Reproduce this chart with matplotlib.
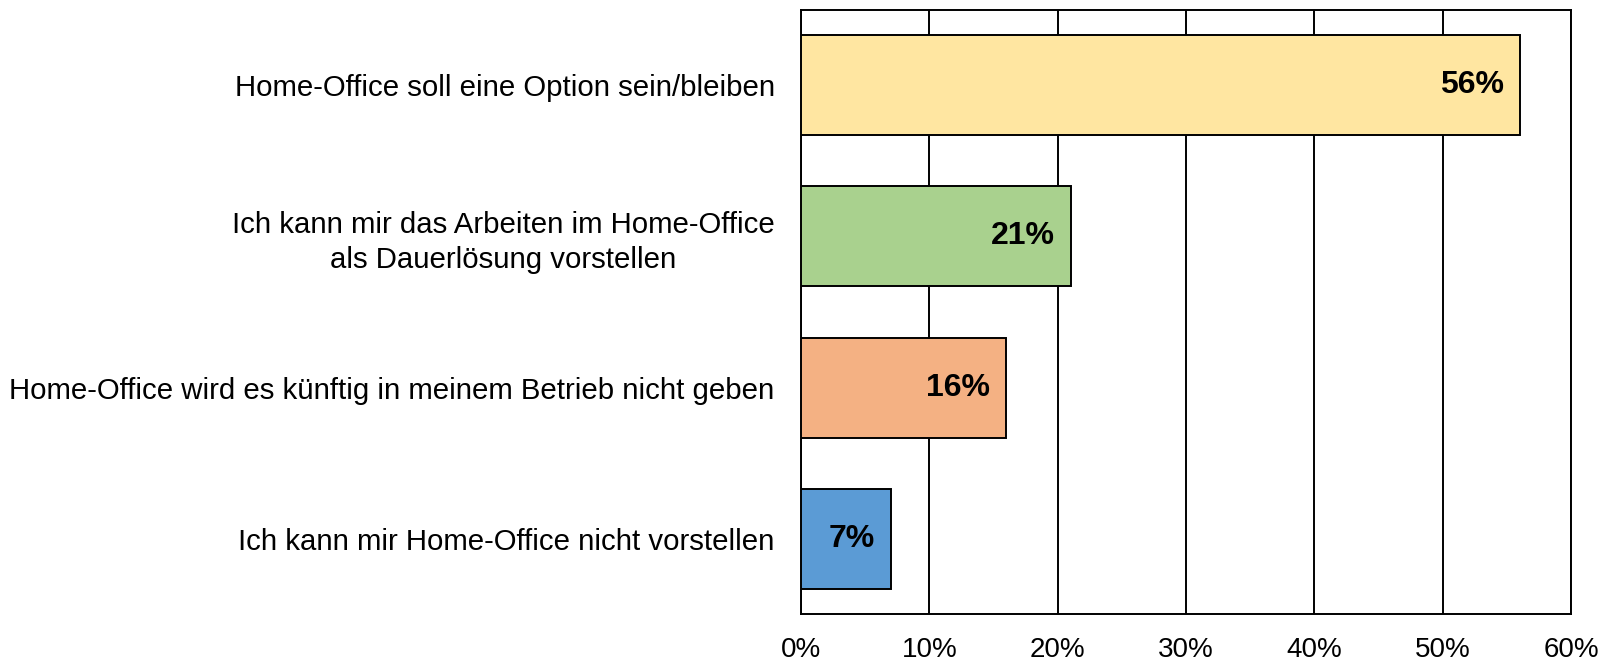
import matplotlib.pyplot as plt
from matplotlib.ticker import PercentFormatter

plt.rcParams['font.family'] = ['Liberation Sans', 'DejaVu Sans']

# Antworten zum Home-Office (von oben nach unten)
kategorien = [
    "Home-Office soll eine Option sein/bleiben",
    "Ich kann mir das Arbeiten im Home-Office\nals Dauerlösung vorstellen",
    "Home-Office wird es künftig in meinem Betrieb nicht geben",
    "Ich kann mir Home-Office nicht vorstellen",
]
anteile = [56, 21, 16, 7]
farben = ["#FFE6A1", "#A9D18E", "#F4B183", "#5B9BD5"]

fig = plt.figure(figsize=(16.04, 6.62), dpi=100)
ax = fig.add_axes([0.4994, 0.0718, 0.48, 0.9138])

y = range(len(kategorien))
balken = ax.barh(y, anteile, height=0.66, color=farben, edgecolor="black",
                 linewidth=1.4, zorder=3)
ax.set_ylim(3.5, -0.5)
ax.set_xlim(0, 60)
ax.set_xticks(range(0, 61, 10))
ax.xaxis.set_major_formatter(PercentFormatter(decimals=0))
ax.set_yticks(list(y))
ax.set_yticklabels(kategorien, fontsize=21.2, multialignment="center",
                   linespacing=1.3)
ax.tick_params(axis="y", length=0, pad=19)
ax.tick_params(axis="x", length=0, pad=16, labelsize=20)

ax.grid(axis="x", color="black", linewidth=1.4, zorder=0)
for s in ax.spines.values():
    s.set_linewidth(1.4)
    s.set_color("black")

# Werte fett rechts in den Balken
for b, wert in zip(balken, anteile):
    ax.annotate(f"{wert}%", (b.get_width(), b.get_y() + b.get_height() / 2),
                xytext=(-16, 0), textcoords="offset pixels",
                ha="right", va="center", fontsize=23, fontweight="bold", zorder=4)

fig.savefig("out.png", dpi=100)
